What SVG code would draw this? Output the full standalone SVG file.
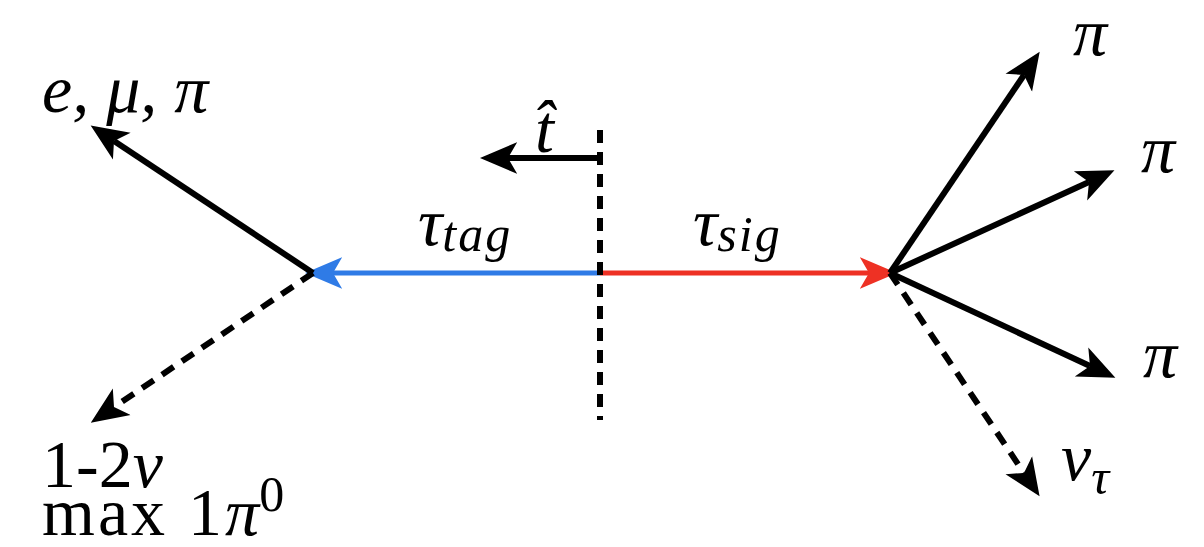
<svg xmlns="http://www.w3.org/2000/svg" width="1204" height="547" viewBox="0 0 1204 547">
<style>
.ln{stroke:#000;stroke-width:6;fill:none}
.ds{stroke-dasharray:14 10}
.t{font-size:68px;fill:#000}
.i{font-style:italic}
.s{font-size:50px}
</style>
<defs>
<marker id="ak" markerUnits="userSpaceOnUse" markerWidth="40" markerHeight="40" viewBox="0 -14 30 28" refX="7" refY="0" orient="auto"><path d="M28,0 L0,-12 L7,0 L0,12 Z" fill="#000"/></marker>
<marker id="ab" markerUnits="userSpaceOnUse" markerWidth="40" markerHeight="40" viewBox="0 -14 30 28" refX="7" refY="0" orient="auto"><path d="M28,0 L0,-12 L7,0 L0,12 Z" fill="#2f7be6"/></marker>
<marker id="ar" markerUnits="userSpaceOnUse" markerWidth="40" markerHeight="40" viewBox="0 -14 30 28" refX="7" refY="0" orient="auto"><path d="M28,0 L0,-12 L7,0 L0,12 Z" fill="#ee3124"/></marker>
</defs>
<g id="connectors">
<line x1="600" y1="273" x2="333" y2="273" stroke="#2f7be6" stroke-width="5" marker-end="url(#ab)"/>
<line x1="600" y1="273" x2="869" y2="273" stroke="#ee3124" stroke-width="5" marker-end="url(#ar)"/>
<line class="ln" x1="600" y1="130" x2="600" y2="420" stroke-dasharray="13 9"/>
<polyline class="ln" points="600,158 508,158" marker-end="url(#ak)"/>
<line class="ln" x1="313" y1="273" x2="114" y2="141" marker-end="url(#ak)"/>
<line class="ln ds" x1="313" y1="273" x2="114" y2="407" marker-end="url(#ak)"/>
<line class="ln" x1="890" y1="273" x2="1024" y2="75" marker-end="url(#ak)"/>
<line class="ln" x1="890" y1="273" x2="1089" y2="182" marker-end="url(#ak)"/>
<line class="ln" x1="890" y1="273" x2="1090" y2="366" marker-end="url(#ak)"/>
<line class="ln ds" x1="890" y1="273" x2="1024" y2="473" marker-end="url(#ak)"/>
</g>
<g font-family="Liberation Serif, serif">
<g id="lep"><text class="t i" x="42" y="112">e, μ, π</text></g>
<g id="nu-left"><text class="t" x="42" y="487">1-2<tspan class="i">ν</tspan><tspan x="42" dy="48" letter-spacing="3">max 1</tspan><tspan class="i">π</tspan><tspan class="s" dy="-24">0</tspan></text></g>
<g id="that"><text class="t i" x="535" y="152">t̂</text></g>
<g id="tautag"><text class="t i" x="418" y="245">τ<tspan class="s" dy="6" letter-spacing="2">tag</tspan></text></g>
<g id="tausig"><text class="t i" x="693" y="245">τ<tspan class="s" dy="6" letter-spacing="2">sig</tspan></text></g>
<g id="pi1"><text class="t i" x="1073" y="55">π</text></g>
<g id="pi2"><text class="t i" x="1141" y="172">π</text></g>
<g id="pi3"><text class="t i" x="1143" y="377">π</text></g>
<g id="nutau"><text class="t i" x="1061" y="480">ν<tspan class="s" dy="14">τ</tspan></text></g>
</g>
</svg>
